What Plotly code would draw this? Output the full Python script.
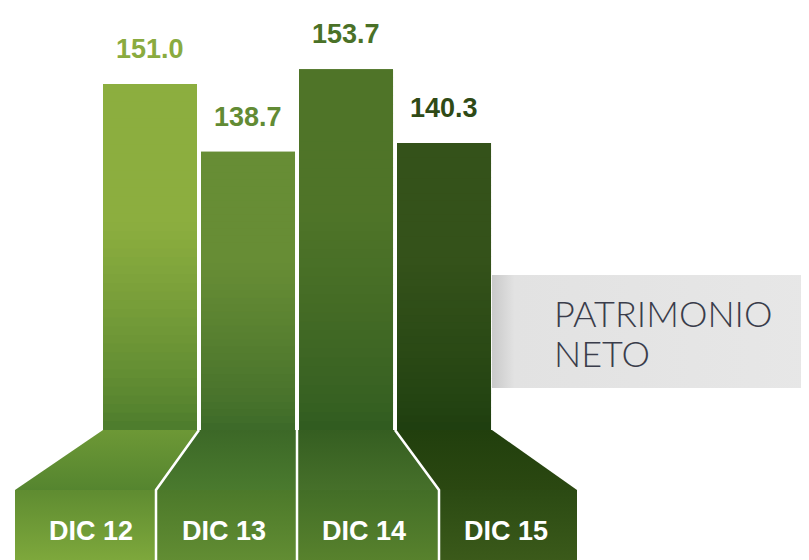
import plotly.graph_objects as go

# ---------------- data ----------------
categories = ["DIC 12", "DIC 13", "DIC 14", "DIC 15"]
values = [151.0, 138.7, 153.7, 140.3]
value_labels = ["151.0", "138.7", "153.7", "140.3"]
title_lines = ["PATRIMONIO", "NETO"]

# ---------------- styles ----------------
bar_top_colors = ["#8cae3f", "#678d35", "#4f7428", "#34521a"]
bar_bottom_colors = ["#4a7a2c", "#3b6828", "#2f5b20", "#1e3e0f"]
label_colors = ["#8aab3f", "#628b34", "#4a7127", "#2f4a16"]

OFF = 8                      # page body margin
VW, VH = 809, 560            # window size
W, H = VW - OFF, VH - OFF    # figure size
Y_BASE = 88.06               # value at the foot of the bars
Y_RANGE = [64.41, 164.84]
X_RANGE = [-1.449, 6.724]
BAR_GAP = 0.041
N_STRIPS = 40


def hex2rgb(h):
    h = h.lstrip("#")
    return tuple(int(h[i:i + 2], 16) for i in (0, 2, 4))


def lerp(c1, c2, t):
    a, b = hex2rgb(c1), hex2rgb(c2)
    return "rgb(%d,%d,%d)" % tuple(round(a[k] + (b[k] - a[k]) * t) for k in range(3))


def px(x):
    return (x - OFF) / W


def py(y):
    return 1 - (y - OFF) / H


fig = go.Figure()

# bars
fig.add_trace(go.Bar(
    x=categories, y=values, base=0,
    marker=dict(color=bar_top_colors, line=dict(width=0)),
    hoverinfo="skip", showlegend=False,
))

shapes = []
# vertical gradient over each bar (derived from its value)
half = (1 - BAR_GAP) / 2
for i, v in enumerate(values):
    for k in range(N_STRIPS):
        y0 = Y_BASE + (v - Y_BASE) * k / N_STRIPS
        y1 = min(v, Y_BASE + (v - Y_BASE) * (k + 1) / N_STRIPS + 0.3)
        t = (k + 0.5) / N_STRIPS
        f = min(1.0, t / 0.6) ** 0.75
        shapes.append(dict(
            type="rect", xref="x", yref="y", layer="above",
            x0=i - half, x1=i + half, y0=y0, y1=y1,
            fillcolor=lerp(bar_bottom_colors[i], bar_top_colors[i], f),
            line=dict(width=0),
        ))


# ---------------- decoration (window-pixel space on overlay axes) ----------------
def poly(xs, ys, cs, kind="vertical"):
    fig.add_trace(go.Scatter(
        x=list(xs) + [xs[0]], y=list(ys) + [ys[0]],
        mode="lines", fill="toself", line=dict(width=0),
        fillgradient=dict(type=kind, colorscale=cs),
        xaxis="x2", yaxis="y2", hoverinfo="skip", showlegend=False,
    ))


# grey title band with a soft shadow near the bars
poly([492, 812, 812, 492], [275, 275, 388, 388],
     [[0, "#c9c9c9"], [0.07, "#e2e2e2"], [1, "#e7e7e7"]], kind="horizontal")

# trapezoid necks
necks = [
    ([103, 199, 156, 15], [430, 430, 490, 490], "#55852f", "#6d9836"),
    ([199, 297, 297, 156], [430, 430, 490, 490], "#4a7a2e", "#3c6827"),
    ([297, 395, 439, 297], [430, 430, 490, 490], "#46702a", "#355e21"),
    ([395, 492, 577, 439], [430, 430, 490, 490], "#2b4811", "#213f0d"),
]
for xs, ys, ctop, cbot in necks:
    poly(xs, ys, [[0, ctop], [1, cbot]])

# label boxes
boxes = [
    (15, 156, "#7ea83c", "#5f8c31"),
    (156, 297, "#628d33", "#4c792a"),
    (297, 439, "#58822d", "#436e27"),
    (439, 577, "#3b5a1a", "#2b4a13"),
]
for x0, x1, ctop, cbot in boxes:
    poly([x0, x1, x1, x0], [490, 490, 561, 561], [[0, ctop], [1, cbot]])

# white separators
for xs, ys in [([199, 156, 156], [430, 490, 561]),
               ([297, 297], [430, 561]),
               ([395, 439, 439], [430, 490, 561])]:
    fig.add_trace(go.Scatter(x=xs, y=ys, mode="lines",
                             line=dict(color="white", width=2.5),
                             xaxis="x2", yaxis="y2", hoverinfo="skip",
                             showlegend=False))

annotations = []
# values above bars
for i, (c, v) in enumerate(zip(categories, values)):
    annotations.append(dict(
        x=c, y=v, xref="x", yref="y", text="<b>%s</b>" % value_labels[i],
        showarrow=False, yanchor="middle", yshift=35,
        font=dict(family="Liberation Sans", size=27, color=label_colors[i]),
    ))

# category labels in the boxes
label_x = [91, 224, 364, 506]
for c, lx in zip(categories, label_x):
    annotations.append(dict(
        x=px(lx), y=py(531), xref="paper", yref="paper",
        text="<b>%s</b>" % c, showarrow=False,
        xanchor="center", yanchor="middle",
        font=dict(family="Liberation Sans", size=27, color="white"),
    ))

# title
for line, cy in zip(title_lines, [313, 353]):
    annotations.append(dict(
        x=px(552), y=py(cy), xref="paper", yref="paper",
        text=line, showarrow=False, xanchor="left", yanchor="middle",
        font=dict(family="Lato", size=36, weight=300, color="#3a3d4b"),
    ))

fig.update_layout(
    width=W, height=H, autosize=False,
    margin=dict(l=0, r=0, t=0, b=0),
    paper_bgcolor="white", plot_bgcolor="white",
    bargap=BAR_GAP,
    xaxis=dict(type="category", range=X_RANGE, visible=False, fixedrange=True),
    yaxis=dict(range=Y_RANGE, visible=False, fixedrange=True),
    xaxis2=dict(range=[OFF, VW], overlaying="x", visible=False, fixedrange=True),
    yaxis2=dict(range=[VH, OFF], overlaying="y", visible=False, fixedrange=True),
    shapes=shapes, annotations=annotations, showlegend=False,
)

fig.write_html("out.html")
